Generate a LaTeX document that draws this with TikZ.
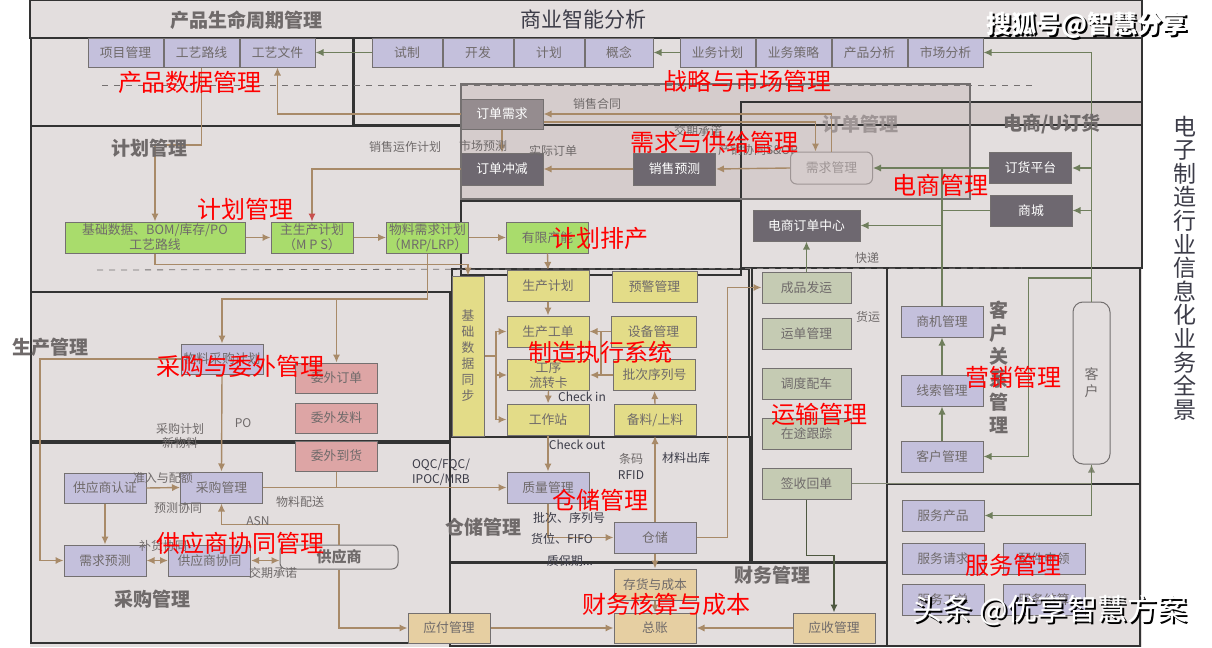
\documentclass[tikz,border=0pt]{standalone}
\usepackage{fontspec}
\setmainfont{Noto Sans CJK SC}
\usetikzlibrary{arrows.meta, positioning, calc}

\definecolor{bgc}{HTML}{E3DEDE}
\definecolor{overc}{HTML}{D3CAC9}
\definecolor{framec}{HTML}{333333}
\definecolor{linec}{HTML}{747070}
\definecolor{textc}{HTML}{6F6A6A}
\definecolor{inkc}{HTML}{3C3C48}
\definecolor{fadec}{HTML}{9E9595}
\definecolor{lilacc}{HTML}{C4C0DC}
\definecolor{greenc}{HTML}{A9DC6C}
\definecolor{yellowc}{HTML}{E3DC88}
\definecolor{pinkc}{HTML}{DDA5A5}
\definecolor{sagec}{HTML}{C5CBB3}
\definecolor{tanc}{HTML}{E6CFA2}
\definecolor{darkc}{HTML}{6E6870}
\definecolor{midc}{HTML}{958C8F}
\definecolor{browna}{HTML}{A88A68}
\definecolor{greena}{HTML}{6F7E5C}
\definecolor{redtip}{HTML}{C8504E}

\begin{document}
\begin{tikzpicture}[
x=0.5pt, y=-0.5pt,
font=\fontsize{6.4}{7.6}\selectfont,
zone/.style={draw=framec, line width=0.8pt},
box/.style={draw=linec,
line width=0.5pt,
text=textc,
inner sep=0pt,
minimum width=41pt,
minimum height=15.5pt,
align=center},
lilac/.style={box, fill=lilacc},
rowbox/.style={lilac, minimum width=37.5pt, minimum height=14.5pt},
plan/.style={box, fill=greenc},
mes/.style={box, fill=yellowc},
outs/.style={box, fill=pinkc, minimum height=15pt},
haul/.style={box, fill=sagec, minimum width=44.5pt},
fin/.style={box, fill=tanc},
dark/.style={box, fill=darkc, text=white},
arrow/.style={-{Latex[length=4pt, width=3.6pt]}, draw=browna, line width=0.7pt},
garrow/.style={arrow, draw=greena},
twoway/.style={{Latex[length=4pt, width=3.6pt]}-{Latex[length=4pt, width=3.6pt]}, draw=browna, line width=0.9pt},
note/.style={text=textc, font=\fontsize{6}{7.4}\selectfont, inner sep=0pt, align=center},
inknote/.style={note, text=inkc},
sechead/.style={text=textc, font=\fontsize{9.5}{11}\selectfont\bfseries, inner sep=0pt},
hot/.style={text=red, font=\fontsize{12}{14}\selectfont, inner sep=0pt}
]
\useasboundingbox (0,0) rectangle (1212,648);

% zones
\fill[bgc] (30,0) rectangle (1142,647);
\fill[overc] (741,102) rectangle (1142,125);
\fill[overc, opacity=0.85] (461,84) rectangle (970,199);
\draw[zone] (30,0) rectangle (1142,38);
\draw[zone] (31,38) rectangle (353,126);
\draw[zone] (354,38) rectangle (1142,125);
\draw[zone] (741,102) rectangle (1142,268);
\draw[zone] (31,126) rectangle (461,292);
\draw[zone] (461,125) rectangle (741,199);
\draw[zone] (461,201) rectangle (741,275);
\draw[zone] (31,292) rectangle (450,441);
\draw[zone] (452,269) rectangle (749,437);
\draw[zone] (752,268) rectangle (887,562);
\draw[zone] (887,268) rectangle (1140,484);
\draw[zone] (887,484) rectangle (1140,646);
\draw[zone] (31,443) rectangle (450,643);
\draw[zone] (450,437) rectangle (750,562);
\draw[zone] (450,563) rectangle (887,646);
\draw[linec, line width=0.6pt] (461,84) rectangle (970,199);
\draw[linec, dashed] (102,85) -- (1037,85);
\draw[linec, dashed] (97,270) -- (1022,268);

% product data / strategy
\node[rowbox] (proj) at (125.5,52.5) {项目管理};
\node[rowbox, right=0pt of proj] (route) {工艺路线};
\node[rowbox, right=0pt of route] (file) {工艺文件};
\node[rowbox, minimum width=35pt] (trial) at (407,52.5) {试制};
\node[rowbox, minimum width=35pt, right=0pt of trial] (dev) {开发};
\node[rowbox, minimum width=35pt, right=0pt of dev] (pdplan) {计划};
\node[rowbox, minimum width=34pt, right=0pt of pdplan] (idea) {概念};
\node[rowbox] (bizplan) at (717.5,52.5) {业务计划};
\node[rowbox, right=0pt of bizplan] (bizstrat) {业务策略};
\node[rowbox, right=0pt of bizstrat] (prodana) {产品分析};
\node[rowbox, right=0pt of prodana] (mktana) {市场分析};

% demand and supply
\node[box, fill=midc, text=white, minimum height=15pt] (ordreq) at (502,114) {订单需求};
\node[dark, minimum height=16pt] (offset) at (502,169) {订单冲减};
\node[dark, minimum height=16pt] (salesfc) at (674.5,169) {销售预测};
\node[box, draw=fadec, text=fadec, rounded corners=3pt, minimum height=16pt] (demand) at (831.5,168) {需求管理};

% e-commerce
\node[dark] (shop) at (1030.5,168) {订货平台};
\node[dark] (mall) at (1031,210.5) {商城};
\node[dark, minimum width=53.5pt] (eorder) at (806.5,225.5) {电商订单中心};

% planning
\node[plan, minimum width=90pt] (base) at (155,237.5) {基础数据、BOM/库存/PO\\工艺路线};
\node[plan] (mps) at (312,237.5) {主生产计划\\（M P S）};
\node[plan] (mrp) at (427.5,237.5) {物料需求计划\\（MRP/LRP）};
\node[plan] (finite) at (547.5,237.5) {有限产能};

% MES
\node[mes, minimum width=16pt, minimum height=80pt, font=\fontsize{6.4}{8}\selectfont] (sync) at (468,356) {基\\础\\数\\据\\同\\步};
\node[mes] (mplan) at (548,286) {生产计划};
\node[mes, minimum width=42.5pt] (alert) at (654.5,287) {预警管理};
\node[mes] (wo) at (548,331.5) {生产工单};
\node[mes, minimum width=42.5pt] (equip) at (653.5,331.5) {设备管理};
\node[mes] (card) at (548.5,375) {工序\\流转卡};
\node[mes] (batch) at (654.5,375) {批次序列号};
\node[mes] (station) at (548,419.5) {工作站};
\node[mes] (prep) at (655,420) {备料/上料};

% production and outsourcing
\node[lilac, minimum height=15pt] (mpp) at (222,359) {物料采购计划};
\node[outs] (outord) at (336.5,378) {委外订单};
\node[outs, below=4.5pt of outord] (outiss) {委外发料};
\node[outs, below=3.5pt of outiss] (outarr) {委外到货};

% purchasing
\node[lilac, minimum height=15pt] (cert) at (105,488) {供应商认证};
\node[lilac] (purch) at (221.5,487.5) {采购管理};
\node[lilac] (fcast) at (105,560.5) {需求预测};
\node[lilac] (collab) at (209.5,560.5) {供应商协同};
\node[box, rounded corners=3pt, minimum width=59pt, minimum height=12pt, font=\fontsize{7.5}{9}\selectfont\bfseries] (supp) at (339,557) {供应商};

% warehouse and finance
\node[lilac] (qc) at (548,487.5) {质量管理};
\node[lilac] (store) at (655,537.5) {仓储};
\node[fin, minimum height=15pt] (payable) at (449,628) {应付管理};
\node[fin] (stock) at (655,584.5) {存货与成本};
\node[fin, minimum height=15pt] (ledger) at (655,628) {总账};
\node[fin, minimum height=15pt] (recv) at (834,628) {应收管理};

% transport
\node[haul] (ship) at (806.5,287.5) {成品发运};
\node[haul, below=7pt of ship] (waybill) {运单管理};
\node[haul, below=9pt of waybill] (dispatch) {调度配车};
\node[haul, below=9pt of dispatch] (track) {在途跟踪};
\node[haul, below=9pt of track] (receipt) {签收回单};

% customers and service
\node[lilac] (oppty) at (942,321.5) {商机管理};
\node[lilac, below=18.5pt of oppty] (lead) {线索管理};
\node[lilac, below=17pt of lead] (client) {客户管理};
\node[box, rounded corners=5pt, minimum width=18.5pt, minimum height=81pt, font=\fontsize{7}{8.5}\selectfont] (cust) at (1091.5,383) {客\\户};
\node[lilac] (svcprod) at (943,515.5) {服务产品};
\node[lilac, below=5.5pt of svcprod] (svcreq) {服务请求};
\node[lilac, below=4.5pt of svcreq] (svcwo) {服务工单};
\node[lilac, right=9pt of svcreq] (parts) {配件申领};
\node[lilac, below=4.5pt of parts] (settle) {服务结算};

% connectors
\draw[garrow] (trial.west) -- (file.east);
\draw[garrow] (bizplan.west) -- (idea.east);
\draw[garrow] (cust.north) |- (mktana.east);
\draw[garrow] (cust.north |- shop.east) -- (shop.east);
\draw[garrow] (cust.north |- mall.east) -- (mall.east);
\coordinate (custtap) at (1091.5,278);
\draw[garrow] (custtap) -| ($(client.east)+(45,0)$) -- (client.east);
\draw[garrow] (shop.west) -- (demand.east);
\draw[greena, line width=0.7pt] (mall.west) -- (oppty.north |- mall.west);
\draw[garrow] (oppty.north) |- (eorder.east);
\draw[greena, line width=0.7pt] (oppty.north |- eorder.east) -- (oppty.north |- shop.west);
\draw[garrow] (ship.north) -- (eorder.south);
\draw[garrow, draw=greena!60!fadec] (receipt.east) -| (cust.south);
\draw[garrow] (cust.south) |- (svcprod.east);
\draw[garrow] (lead.north) -- (oppty.south);
\draw[garrow] (client.north) -- (lead.south);
\draw[garrow, draw=greena!70!black] (receipt.south) |- ($(recv.north)+(0,-57)$) -- (recv.north);

\draw[arrow] (demand.north) |- (ordreq.east);
\draw[arrow] ($(ordreq.east)+(0,8)$) -| ($(demand.north)+(-16,0)$);
\draw[arrow] (ordreq.west) -| (file.south);
\draw[arrow] (ordreq.south) -- (offset.north);
\draw[arrow] (salesfc.west) -- (offset.east);
\draw[arrow] (demand.west) -- (salesfc.east);
\draw[arrow, -{Latex[length=4pt, width=3.6pt, color=redtip]}] (offset.west) -| (mps.north);

\draw[arrow] (route.south) |- (155,145) -- (base.north);
\draw[arrow] (base.east) -- (mps.west);
\draw[arrow] (mps.east) -- (mrp.west);
\draw[arrow] (mrp.east) -- (finite.west);
\draw[arrow] (base.south) |- ($(sync.north)+(0,-11)$) -- (sync.north);
\draw[arrow] (finite.south) -- (mplan.north);
\coordinate (mrptap) at (336.5,299);
\draw[arrow] (mrp.south) |- (222,299) -- (mpp.north);
\draw[arrow] (mrptap) -- (outord.north);

\draw[arrow] (mplan.south) -- (wo.north);
\coordinate (syncjoin) at (496,356);
\draw[browna, line width=0.7pt] (sync.east) -- (syncjoin);
\draw[arrow] (syncjoin) |- (wo.west);
\draw[arrow] (syncjoin) |- (card.west);
\draw[arrow] (syncjoin) |- (station.west);
\draw[arrow] (equip.west) -- (wo.east);
\draw[arrow] (batch.west) -- (card.east);
\draw[browna, line width=0.7pt] (601,331.5) -- (601,375);
\draw[arrow] (card.south) -- (station.north);
\draw[arrow] (prep.north) -- (batch.south);

\draw[arrow] (mpp.west) -| (40,560.5) -- (fcast.west);
\draw[arrow] (mpp.south) -- (purch.north);
\draw[browna, line width=0.7pt] (outarr.south) -- (outarr.south |- purch.east);
\draw[arrow] (purch.east) -- (qc.west);
\draw[arrow] (cert.east) -- (purch.west);
\draw[arrow] (cert.south) -- (fcast.north);
\draw[twoway] (fcast.east) -- (collab.west);
\draw[twoway] (collab.east) -- (collab.east -| supp.west);
\draw[arrow] (supp.north) |- ($(purch.south)+(0,21)$) -- (purch.south);
\draw[arrow] (supp.south) |- (payable.west);

\draw[arrow] (station.south) -- (qc.north);
\draw[arrow] (qc.south) |- (store.west);
\draw[arrow] (store.north) -- (prep.south);
\draw[arrow] (store.east) -| ($(ship.west)+(-34,0)$) -- (ship.west);
\draw[arrow] (store.south) -- (stock.north);
\draw[arrow] (stock.south) -- (ledger.north);
\draw[arrow] (payable.east) -- (ledger.west);
\draw[arrow] (recv.west) -- (ledger.east);

% connector labels
\node[note] (lcontract) at (597,104) {销售合同};
\node[note] (lsop) at (405,147) {销售运作计划};
\node[note] (lmarket) at (483,146) {市场预测};
\node[note] (lactual) at (553,151) {实际订单};
\node[note] (lpromise) at (698,131) {交期承诺};
\node[note] (lsnop) at (758,150) {产销协同S\&OP};
\node[note] (lexpress) at (867,258) {快递};
\node[note] (lfreight) at (868,317) {货运};
\node[note] (lpoplan) at (180,436) {采购计划\\新物料};
\node[note] (lpo) at (243,423) {PO};
\node[note] (lquota) at (163,478) {准入与配额};
\node[note] (lfcollab) at (178,508) {预测协同};
\node[note] (lasn) at (258,521) {ASN};
\node[note] (lreplen) at (163,546) {补货协同};
\node[note] (ldelivery) at (273,573) {交期承诺};
\node[note] (ldist) at (300,502) {物料配送};
\node[inknote] (lqc) at (441,472) {OQC/FQC/\\IPOC/MRB};
\node[inknote] (lcheckin) at (582,397) {Check in};
\node[inknote] (lcheckout) at (577,445) {Check out};
\node[note] (lcode) at (631,459) {条码};
\node[inknote] (lrfid) at (631,475) {RFID};
\node[inknote] (lissue) at (686,458) {材料出库};
\node[inknote] (lbatch) at (569,518) {批次、序列号};
\node[inknote] (lbin) at (562,539) {货位、FIFO};
\node[inknote] (lshelf) at (570,561) {质保期...};

% zone titles
\node[sechead] (tplm) at (246,20) {产品生命周期管理};
\node[text=inkc, font=\fontsize{10.5}{12}\selectfont, inner sep=0pt] (tbi) at (583,20) {商业智能分析};
\node[sechead] (tplan) at (150,148) {计划管理};
\node[sechead] (tprod) at (50,347) {生产管理};
\node[sechead] (tpurch) at (152,599) {采购管理};
\node[sechead] (twms) at (483,527) {仓储管理};
\node[sechead] (tfin) at (772,575) {财务管理};
\node[sechead, text=fadec] (torder) at (860,124) {订单管理};
\node[sechead] (tec) at (1052,124) {电商/U订货};
\node[sechead, align=center, font=\fontsize{9.5}{11.5}\selectfont\bfseries] (tcrm) at (999,367) {客\\户\\关\\系\\管\\理};
\node[text=inkc, align=center, inner sep=0pt, font=\fontsize{11.5}{11.8}\selectfont] (tall) at (1185,268) {电\\子\\制\\造\\行\\业\\信\\息\\化\\业\\务\\全\\景};

% red labels
\node[hot] (rpdm) at (190,82) {产品数据管理};
\node[hot] (rsm) at (747,81) {战略与市场管理};
\node[hot] (rdsm) at (714,142) {需求与供给管理};
\node[hot] (rec) at (940,185) {电商管理};
\node[hot] (rplan) at (245,209) {计划管理};
\node[hot] (rsched) at (600,238) {计划排产};
\node[hot] (rpo) at (240,366) {采购与委外管理};
\node[hot] (rmes) at (600,352) {制造执行系统};
\node[hot] (rcrm) at (1013,377) {营销管理};
\node[hot] (rtms) at (819,414) {运输管理};
\node[hot] (rwms) at (600,500) {仓储管理};
\node[hot] (rsrm) at (240,543) {供应商协同管理};
\node[hot] (rfin) at (666,604) {财务核算与成本};
\node[hot] (rsvc) at (1013,565) {服务管理};

% watermarks
\node[text=black, font=\fontsize{12.5}{14}\selectfont\bfseries, inner sep=0pt] (wmsohus) at (1089,27) {搜狐号@智慧分享};
\node[text=white, font=\fontsize{12.5}{14}\selectfont\bfseries, inner sep=0pt] (wmsohu) at (1087,25) {搜狐号@智慧分享};
\node[text=black, font=\fontsize{15}{17}\selectfont, inner sep=0pt] (wmttshadow) at (1052,612) {头条 @优享智慧方案};
\node[text=white, font=\fontsize{15}{17}\selectfont, inner sep=0pt] (wmtt) at (1050,610) {头条 @优享智慧方案};

\end{tikzpicture}
\end{document}
